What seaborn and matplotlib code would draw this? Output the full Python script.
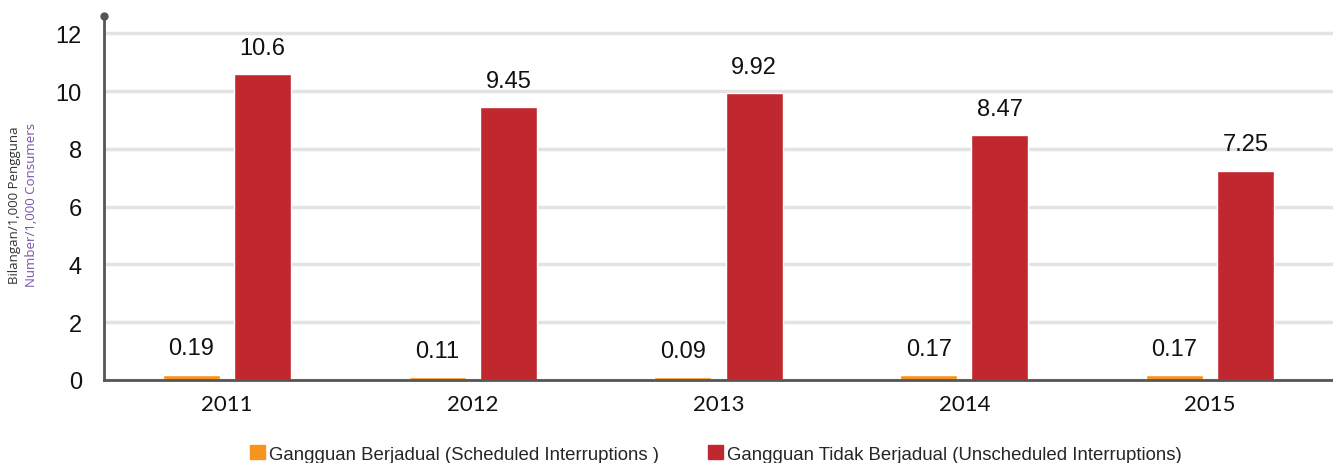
import matplotlib
matplotlib.use("Agg")
import matplotlib.pyplot as plt
import seaborn as sns
import pandas as pd

years = ["2011", "2012", "2013", "2014", "2015"]
scheduled = [0.19, 0.11, 0.09, 0.17, 0.17]
unscheduled = [10.6, 9.45, 9.92, 8.47, 7.25]
scheduled_labels = ["0.19", "0.11", "0.09", "0.17", "0.17"]
unscheduled_labels = ["10.6", "9.45", "9.92", "8.47", "7.25"]
series_names = ["Gangguan Berjadual (Scheduled Interruptions )",
                "Gangguan Tidak Berjadual (Unscheduled Interruptions)"]
colors = ["#F7941E", "#C1272F"]

df = pd.DataFrame({
    "year": years * 2,
    "value": scheduled + unscheduled,
    "series": [series_names[0]] * len(years) + [series_names[1]] * len(years),
})

sns.set_style("white")
plt.rcParams["font.family"] = ["Liberation Sans", "DejaVu Sans"]

fig = plt.figure(figsize=(13.33, 4.64), dpi=100)
ax = fig.add_axes([104 / 1333, 83 / 464, 1 - 104 / 1333, (381 - 17) / 464])

sns.barplot(data=df, x="year", y="value", hue="series", palette=colors,
            width=0.58, gap=0.2, ax=ax, legend=False, saturation=1)

ax.set_xlim(-0.5, 4.5)
ax.set_ylim(0, 12.6)
ax.set_yticks([0, 2, 4, 6, 8, 10, 12])
ax.yaxis.grid(True, color="#e3e3e3", linewidth=2.5)
ax.set_axisbelow(True)
for s in ["top", "right"]:
    ax.spines[s].set_visible(False)
for s in ["left", "bottom"]:
    ax.spines[s].set_color("#555555")
    ax.spines[s].set_linewidth(2)
ax.plot([0], [1], marker="o", color="#555555", markersize=5,
        transform=ax.transAxes, clip_on=False)

ax.tick_params(axis="y", labelsize=17, length=0, pad=16, labelcolor="#111111")
ax.tick_params(axis="x", labelsize=16, length=0, pad=10, labelcolor="#111111")
for lbl in ax.get_xticklabels():
    lbl.set_family(["Lato", "DejaVu Sans"])
ax.set_xlabel("")
ax.set_ylabel("")

# value labels
for cont, labels in zip(ax.containers, [scheduled_labels, unscheduled_labels]):
    ax.bar_label(cont, labels=labels, padding=11, fontsize=17, color="#111111")

# y-axis title (two lines, two colours)
fig.text(15 / 1333, 1 - 205 / 464, "Bilangan/1,000 Pengguna",
         rotation=90, ha="center", va="center", fontsize=9.5, color="#333333",
         family=["Open Sans", "DejaVu Sans"])
fig.text(32 / 1333, 1 - 205 / 464, "Number/1,000 Consumers",
         rotation=90, ha="center", va="center", fontsize=9.5, color="#7B52AB",
         family=["Open Sans", "DejaVu Sans"])

# legend
handles = [plt.Rectangle((0, 0), 1, 1, color=c) for c in colors]
fig.legend(handles, series_names, loc="center", bbox_to_anchor=(0.537, 1 - 455 / 464),
           ncol=2, frameon=False, fontsize=13.4, handlelength=0.8, handleheight=0.8,
           handletextpad=0.25, columnspacing=2.6)

fig.savefig("out.png", dpi=100)
